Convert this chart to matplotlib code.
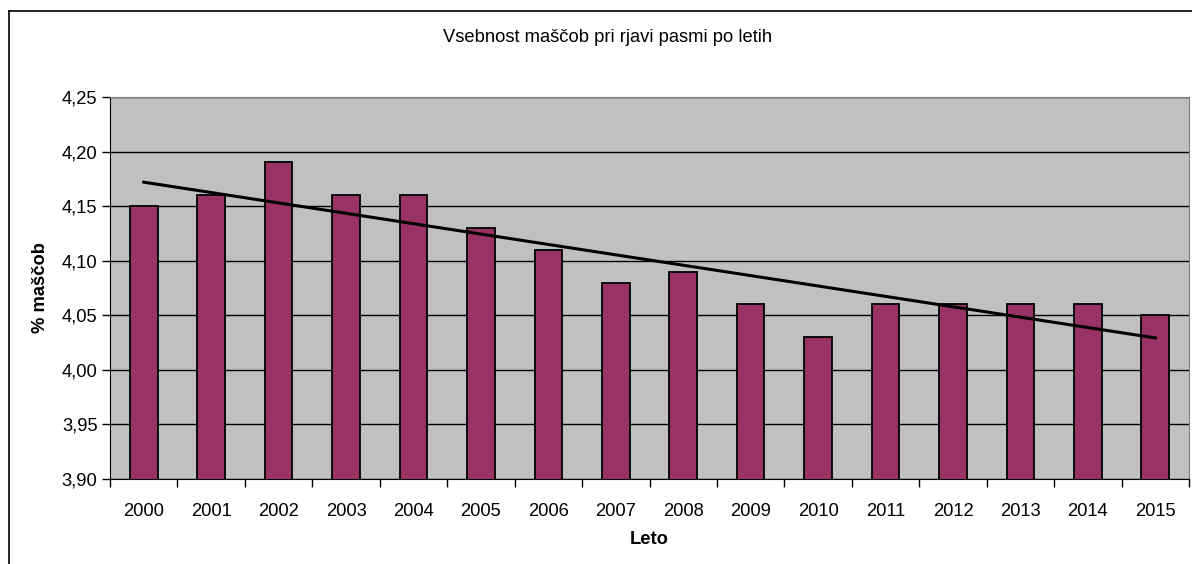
import matplotlib.pyplot as plt
from matplotlib.lines import Line2D
import numpy as np

years = ["2000", "2001", "2002", "2003", "2004", "2005", "2006", "2007",
         "2008", "2009", "2010", "2011", "2012", "2013", "2014", "2015"]
fat = [4.15, 4.16, 4.19, 4.16, 4.16, 4.13, 4.11, 4.08,
       4.09, 4.06, 4.03, 4.06, 4.06, 4.06, 4.06, 4.05]
y_ticks = [3.90, 3.95, 4.00, 4.05, 4.10, 4.15, 4.20, 4.25]

plt.rcParams['font.family'] = ['Liberation Sans', 'DejaVu Sans']

W, H = 1192, 564
fs = 13.2
fig = plt.figure(figsize=(W / 100, H / 100), dpi=100)
ax = fig.add_axes([110 / W, 1 - 479 / H, (1189 - 110) / W, (479 - 97) / H])

x = np.arange(len(years))
ax.set_facecolor('#C0C0C0')
ax.set_axisbelow(True)
ax.yaxis.grid(True, color='black', linewidth=1)
ax.bar(x, fat, width=0.41, bottom=0, color='#993366', edgecolor='black', linewidth=1.3, zorder=2)

# linear trend line
k, n = np.polyfit(x, fat, 1)
ax.plot([x[0], x[-1]], [k * x[0] + n, k * x[-1] + n], color='black', linewidth=2.2, zorder=3)

ax.set_xlim(-0.5, len(years) - 0.5)
ax.set_ylim(3.90, 4.25)
ax.set_yticks(y_ticks)
ax.set_yticklabels([f"{v:.2f}".replace('.', ',') for v in y_ticks], fontsize=fs)
ax.set_xticks(x)
ax.set_xticklabels(years, fontsize=fs)
ax.set_xticks(np.arange(len(years) + 1) - 0.5, minor=True)
ax.tick_params(axis='x', which='major', length=0, pad=17)
ax.tick_params(axis='x', which='minor', length=6, width=1, color='black')
ax.tick_params(axis='y', length=6, width=1, pad=3)

for s in ['top', 'right']:
    ax.spines[s].set_color('#808080')
for s in ['left', 'bottom']:
    ax.spines[s].set_color('black')

ax.set_xlabel("Leto", fontsize=fs, fontweight='bold', labelpad=8)
ax.set_ylabel("% maščob", fontsize=fs, fontweight='bold', labelpad=9)
fig.text(608 / W, 1 - 38 / H, "Vsebnost maščob pri rjavi pasmi po letih",
         fontsize=fs, ha='center', va='center')

# chart border
fig.add_artist(Line2D([9 / W, 9 / W], [0, 1 - 11 / H], color='black', linewidth=1.2))
fig.add_artist(Line2D([9 / W, 1], [1 - 11 / H, 1 - 11 / H], color='black', linewidth=1.2))

fig.savefig("out.png", dpi=100)
